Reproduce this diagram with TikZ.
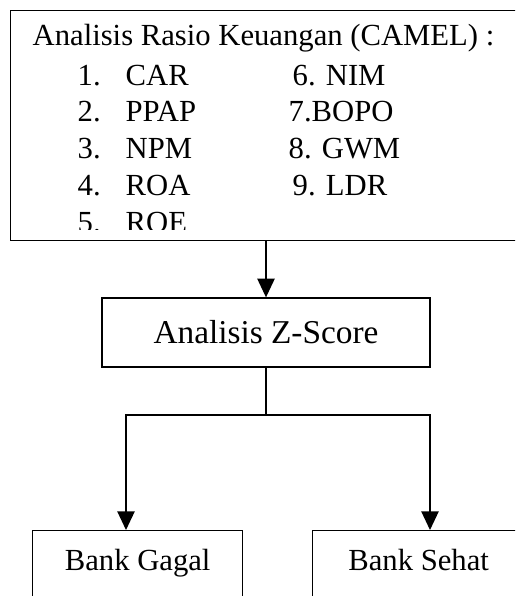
\documentclass[tikz,border=0pt]{standalone}
\usepackage{fontspec}
\setmainfont{Liberation Serif}
\usetikzlibrary{arrows.meta,positioning}

\begin{document}
\begin{tikzpicture}[x=0.75pt,y=-0.75pt,
  box/.style={rectangle, draw, line width=1pt, inner sep=0pt,
    font=\fontsize{23}{27}\selectfont},
  item/.style={anchor=base west, inner sep=0pt, font=\fontsize{23}{27}\selectfont},
  ->,>={Triangle[width=13pt,length=14pt]},line width=1pt
]
  \useasboundingbox (0,0) rectangle (515,596);
  \clip (0,0) rectangle (515,596);

  % ratio box (cut off at the bottom and right)
  \node[box, anchor=north west, minimum width=382.5pt, minimum height=172.5pt] (camel) at (10,10) {};
  \begin{scope}
    \clip (10,10) rectangle (520,229);
    \node[item] (head) at (32,45) {Analisis Rasio Keuangan (CAMEL) :};
    \foreach \i/\ratio in {1/CAR,2/PPAP,3/NPM,4/ROA,5/ROE} {
      \node[item] (num\i) at (77,{85+36.75*(\i-1)}) {\i.};
      \node[item] (ratio\i) at (125,{85+36.75*(\i-1)}) {\ratio};
    }
    \node[item] (ratio6) at (292,85) {6. NIM};
    \node[item] (ratio7) at (288,121.75) {7.BOPO};
    \node[item] (ratio8) at (288,158.5) {8. GWM};
    \node[item] (ratio9) at (292,195.25) {9. LDR};
  \end{scope}

  \node[box, minimum width=246pt, minimum height=51.75pt, font=\fontsize{25}{30}\selectfont] (zscore) at (266,332.5) {Analisis Z-Score};
  \node[box, anchor=north west, minimum width=157.5pt, text height=30pt, text depth=45pt] (gagal) at (32,530) {Bank Gagal};
  \node[box, anchor=north west, minimum width=159pt, text height=30pt, text depth=45pt] (sehat) at (312,530) {Bank Sehat};

  \coordinate (fork) at (266,415);
  \coordinate (lhook) at (126,415);
  \coordinate (rhook) at (430,415);

  \draw (zscore.north |- camel.south) -- (zscore.north);
  \draw[-] (zscore.south) -- (fork);
  \draw (fork) -| (lhook |- gagal.north);
  \draw (fork) -| (rhook |- sehat.north);
\end{tikzpicture}
\end{document}
